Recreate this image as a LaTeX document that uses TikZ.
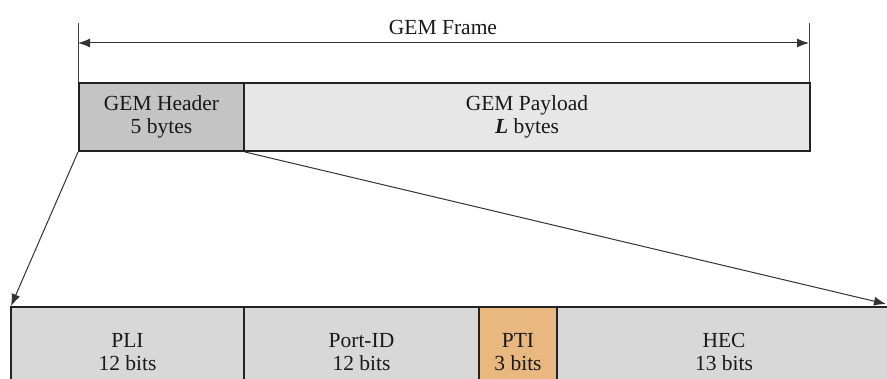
\documentclass[tikz,border=0pt]{standalone}
\usepackage{fontspec}
\setmainfont{Liberation Serif}
\usetikzlibrary{arrows.meta}
\definecolor{hdrgray}{RGB}{196,196,196}
\definecolor{paygray}{RGB}{231,231,231}
\definecolor{fldgray}{RGB}{216,216,216}
\definecolor{ptiorange}{RGB}{232,184,128}
\definecolor{edge}{RGB}{35,35,35}
\tikzset{
  field/.style={draw=edge, line width=2pt, inner sep=0pt, anchor=north west,
    align=center, font=\fontsize{21.5}{23}\selectfont, text=black!90},
  tip/.tip={Latex[length=12pt,width=9pt]},
  pointer/.style={draw=black!80, line width=1pt, -tip},
  tick/.style={draw=black!75, line width=1pt},
}
\begin{document}
\begin{tikzpicture}[x=1pt,y=-1pt]
\useasboundingbox (0,0) rectangle (887,379);
\fill[white] (0,0) rectangle (887,379);

% whole frame with its length marker
\coordinate (fl) at (78,23);
\coordinate (fr) at (809,23);
\coordinate (al) at (78,43);
\coordinate (ar) at (809,43);
\draw[tick] (fl) -- (78,82);
\draw[tick] (fr) -- (809,82);
\draw[pointer, tip-tip] (al) -- (ar);
\node[font=\fontsize{21.5}{23}\selectfont, text=black!90] (ftitle) at (443,27) {GEM Frame};

\node[field, fill=hdrgray, minimum width=165, minimum height=68] (hdr) at (78,82)
  {GEM Header\\5 bytes};
\node[field, fill=paygray, minimum width=566, minimum height=68] (pay) at (243,82)
  {GEM Payload\\\textbf{\textit{L}} bytes};

% header fields, row continues past the lower edge
\begin{scope}
\clip (0,0) rectangle (887,379);
\node[field, fill=fldgray, minimum width=233, minimum height=90] (pli) at (10,306)
  {PLI\\12 bits};
\node[field, fill=fldgray, minimum width=235, minimum height=90] (port) at (243,306)
  {Port-ID\\12 bits};
\node[field, fill=ptiorange, minimum width=78, minimum height=90] (pti) at (478,306)
  {PTI\\3 bits};
\node[field, fill=fldgray, minimum width=334, minimum height=90] (hec) at (556,306)
  {HEC\\13 bits};
\end{scope}

% expansion of the header
\coordinate (hecend) at (886,304);
\draw[pointer] (hdr.south west) -- ([xshift=1pt]pli.north west);
\draw[pointer] (hdr.south east) -- (hecend);
\end{tikzpicture}
\end{document}
